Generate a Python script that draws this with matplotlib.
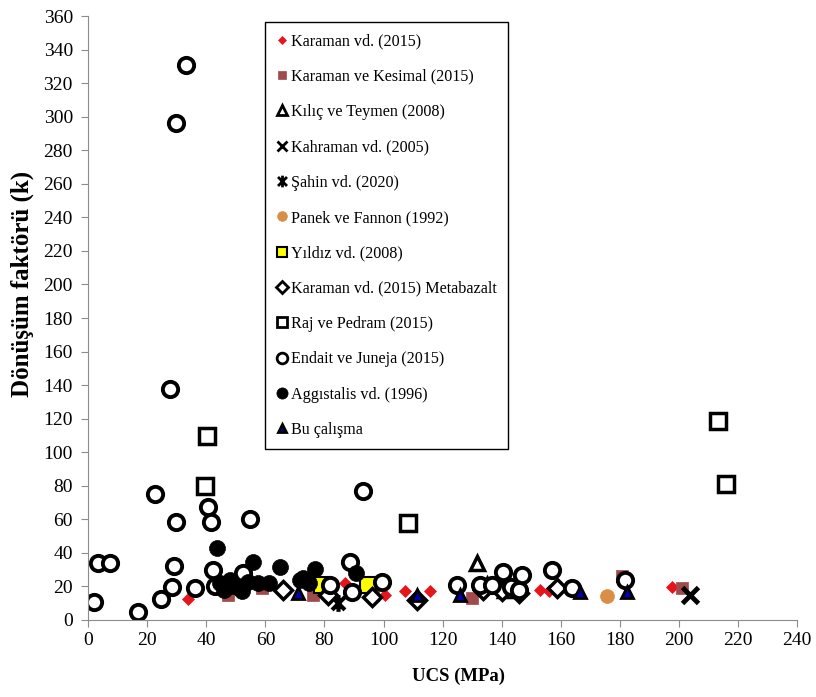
import matplotlib
matplotlib.use("Agg")
import matplotlib.pyplot as plt
from matplotlib.lines import Line2D
from matplotlib.path import Path

plt.rcParams['font.family'] = ['Liberation Serif', 'DejaVu Serif']

# --- data (UCS in MPa, k) ---
karaman_x = [33.9, 87, 100.5, 107.3, 115.8, 125, 153, 156, 197.7]
karaman_y = [12.5, 22, 15, 17, 17.5, 21, 18, 17, 19.7]

kesimal_x = [47.4, 59, 76, 96.5, 130, 180.8, 201]
kesimal_y = [15, 19, 15, 15, 13, 26, 19]

kilic_x = [131.6, 135, 141]
kilic_y = [34, 21, 18]

kahraman_x = [203.8]
kahraman_y = [15]

sahin_x = [84.6]
sahin_y = [10]

panek_x = [175.7]
panek_y = [14.3]

yildiz_x = [79.2, 94.8, 141.8]
yildiz_y = [20.9, 20.9, 18]

meta_x = [66, 81.2, 96, 111.4, 133.7, 140, 146, 158.8]
meta_y = [18, 15, 13.7, 12, 18, 17, 16, 19]

raj_x = [40.3, 39.6, 108.3, 213.3, 216]
raj_y = [109.6, 80, 58, 118.6, 81]

endait_x = [2, 3.4, 7.4, 17, 24.7, 28.4, 29.1, 22.7, 27.8, 29.8, 33.2, 29.8, 40.6,
            41.5, 54.8, 93.2, 36.2, 42.3, 52.5, 43, 47, 88.7, 81.9, 89.4, 99.5,
            125, 132.7, 136.8, 140.5, 143, 146, 147, 157, 163.8, 181.8]
endait_y = [10.7, 34, 34, 4.8, 12.5, 19.7, 32, 75, 137.7, 296, 331, 58.5, 67.5,
            58.5, 60, 77, 19, 30, 28, 20, 20, 34.6, 20.9, 16.7, 22.6,
            21, 21, 21, 28.6, 19.7, 18, 26.8, 30, 19, 24]

agg_x = [43.7, 55.9, 65, 76.8, 72.8, 90.7, 61.3, 48, 44.7, 50.4, 54, 71.8, 57.5,
         74.8, 46, 52]
agg_y = [43, 34.6, 31.6, 30.5, 25, 28, 22.3, 23.8, 22, 19.7, 22.6, 23.8, 22,
         22, 18, 17]

bu_x = [71, 111.4, 126, 166.5, 182.5]
bu_y = [16, 15, 15, 16.7, 16.7]

# star marker like Excel (x with a vertical bar)
star = Path([(-1, -1), (1, 1), (-1, 1), (1, -1), (0, -1.3), (0, 1.3)],
            [Path.MOVETO, Path.LINETO, Path.MOVETO, Path.LINETO, Path.MOVETO, Path.LINETO])

series = [
    ("Karaman vd. (2015)", karaman_x, karaman_y, dict(marker='D', ms=6.5, mfc='#E8141B', mec='#E8141B', mew=0.5)),
    ("Karaman ve Kesimal (2015)", kesimal_x, kesimal_y, dict(marker='s', ms=9, mfc='#A04A4C', mec='#A04A4C', mew=0.5)),
    ("Kılıç ve Teymen (2008)", kilic_x, kilic_y, dict(marker='^', ms=10, mfc='white', mec='black', mew=2.5)),
    ("Kahraman vd. (2005)", kahraman_x, kahraman_y, dict(marker='x', ms=11, mfc='none', mec='black', mew=3.5)),
    ("Şahin vd. (2020)", sahin_x, sahin_y, dict(marker=star, ms=12, mfc='none', mec='black', mew=3)),
    ("Panek ve Fannon (1992)", panek_x, panek_y, dict(marker='o', ms=10, mfc='#D98E45', mec='#D98E45', mew=0.5)),
    ("Yıldız vd. (2008)", yildiz_x, yildiz_y, dict(marker='s', ms=11, mfc='#FFFF00', mec='black', mew=1.5)),
    ("Karaman vd. (2015) Metabazalt", meta_x, meta_y, dict(marker='D', ms=9, mfc='white', mec='black', mew=2.5)),
    ("Raj ve Pedram (2015)", raj_x, raj_y, dict(marker='s', ms=11, mfc='white', mec='black', mew=2.5)),
    ("Endait ve Juneja (2015)", endait_x, endait_y, dict(marker='o', ms=11, mfc='white', mec='black', mew=2.8)),
    ("Aggıstalis vd. (1996)", agg_x, agg_y, dict(marker='o', ms=11.5, mfc='black', mec='black', mew=0.5)),
    ("Bu çalışma", bu_x, bu_y, dict(marker='^', ms=9, mfc='#0000B0', mec='black', mew=2)),
]

fig = plt.figure(figsize=(8.16, 6.97), dpi=100)
ax = fig.add_axes([0.108, 0.1105, 0.869, 0.8665])

handles = []
for lab, xs, ys, st in series:
    ax.plot(xs, ys, linestyle='none', **st)
    small = dict(st)
    small['ms'] = st['ms'] * 0.7
    small['mew'] = min(st['mew'], 2)
    handles.append(Line2D([], [], linestyle='none', **small))

ax.set_xlim(0, 240)
ax.set_ylim(0, 360)
ax.set_xticks(range(0, 241, 20))
ax.set_yticks(range(0, 361, 20))
for s in ['top', 'right']:
    ax.spines[s].set_visible(False)
for s in ['left', 'bottom']:
    ax.spines[s].set_color('#8C8C8C')
ax.tick_params(colors='#8C8C8C', labelcolor='black', labelsize=14, length=5, direction='out')
ax.tick_params(axis='y', pad=6)

ax.set_xlabel("UCS (MPa)", fontsize=13.5, fontweight='bold', va='center', ha='center')
ax.set_ylabel("Dönüşüm faktörü (k)", fontsize=18, fontweight='bold', va='center', ha='center')
ax.xaxis.set_label_coords(0.5226, -0.093)
ax.yaxis.set_label_coords(-0.093, 0.557)

leg = ax.legend(handles, [s[0] for s in series], loc='upper left',
                bbox_to_anchor=(0.2497, 0.99), borderaxespad=0, fontsize=11.6,
                frameon=True, fancybox=False, edgecolor='black', framealpha=1,
                handlelength=0.7, handletextpad=0.2, labelspacing=1.2, borderpad=0.7)
leg.get_frame().set_linewidth(1.0)

fig.savefig("out.png", dpi=100)
